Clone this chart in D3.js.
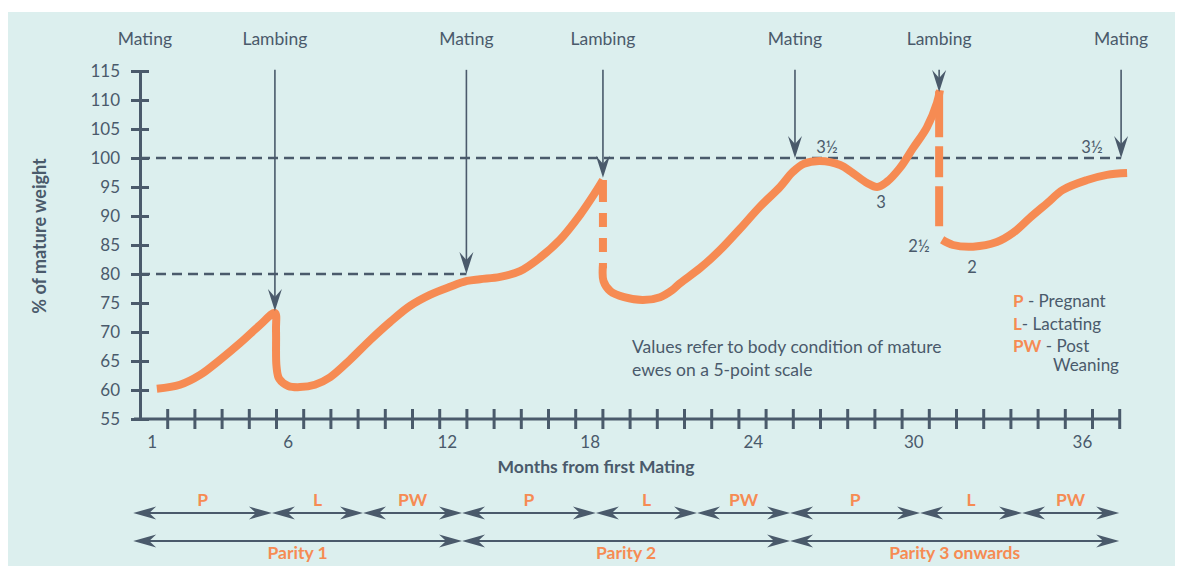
<!DOCTYPE html>
<html>
<head>
<meta charset="utf-8">
<script src="https://cdn.jsdelivr.net/npm/d3@7/dist/d3.min.js"></script>
<style>
  body { margin: 0; background: #fff; }
</style>
</head>
<body>
<div id="chart"></div>
<script>
// ---- data (months from first mating, % of mature weight) ----
var yTicks = [55, 60, 65, 70, 75, 80, 85, 90, 95, 100, 105, 110, 115];
var monthTicks = d3.range(1, 37);
var xLabels = ["1", "6", "12", "18", "24", "30", "36"];
var xLabelAt = [0.45, 5.45, 11.3, 16.55, 22.55, 28.45, 34.65];

var eventNames = ["Mating", "Lambing", "Mating", "Lambing", "Mating", "Lambing", "Mating"];
var eventMonths = [0.18, 4.96, 12.0, 17.02, 24.08, 29.38, 36.07];
var eventTips = [null, 73.6, 80, 96.6, 100, 111.4, 100];

var refValues = [80, 100];
var refEnds = [12.0, 36.07];

// body weight curve, split where the line changes style
var growthA = [[0.62, 60.2], [1.47, 60.9], [2.21, 62.6], [2.94, 65.2], [3.68, 68.1], [4.41, 71.2],
  [4.96, 73.3], [5.0, 70.3], [5.02, 64.0], [5.12, 61.9], [5.45, 60.7], [5.88, 60.5], [6.43, 60.9],
  [6.99, 62.2], [7.72, 65.2], [8.46, 68.6], [9.19, 71.7], [9.93, 74.5], [10.66, 76.4], [11.4, 77.8],
  [12.02, 78.8], [12.5, 79.1], [13.24, 79.5], [13.97, 80.5], [14.7, 82.8], [15.44, 85.9],
  [16.18, 90.2], [16.73, 94.0], [17.02, 96.2]];
var dropB = [[17.02, 96.2], [17.02, 81.0]];
var growthC = [[17.02, 81.5], [17.04, 78.8], [17.3, 77.0], [17.8, 76.0], [18.49, 75.5], [19.12, 76.0],
  [19.56, 77.2], [19.85, 78.4], [20.59, 81.0], [21.32, 84.1], [22.06, 87.8], [22.79, 91.6],
  [23.53, 95.0], [24.0, 97.6], [24.4, 99.0], [25.0, 99.5], [25.74, 98.8], [26.21, 97.4],
  [26.73, 95.7], [27.1, 95.0], [27.46, 95.9], [27.94, 98.3], [28.42, 101.7], [28.93, 105.3],
  [29.3, 109.5], [29.41, 111.7]];
var dropD = [[29.38, 111.5], [29.38, 88.0]];
var growthE = [[29.49, 85.9], [29.89, 85.0], [30.63, 84.7], [31.5, 85.5], [32.1, 87.1], [32.72, 89.7],
  [33.35, 92.2], [33.93, 94.5], [34.82, 96.2], [35.55, 97.1], [36.29, 97.4]];

var scoreLabels = ["3½", "3", "2½", "2", "3½"];
var scoreMonths = [25.26, 27.24, 28.64, 30.59, 35.0];
var scoreValues = [100.9, 91.4, 83.8, 80.2, 100.9];

var phaseNames = ["P", "L", "PW", "P", "L", "PW", "P", "L", "PW"];
var phaseBounds = [-0.25, 4.85, 8.2, 11.84, 16.76, 20.48, 23.9, 28.68, 32.43, 36.0];
var parityNames = ["Parity 1", "Parity 2", "Parity 3 onwards"];
var parityBounds = [-0.25, 11.84, 23.9, 36.0];

// ---- styles ----
var bg = "#dcefee", slate = "#4a5a6b", orange = "#f68b53";
var font = "Lato, 'Open Sans', sans-serif";

var W = 1183, H = 566;
var svg = d3.select("#chart").append("svg")
  .attr("width", W).attr("height", H)
  .attr("font-family", font);

svg.append("rect").attr("x", 8).attr("y", 12).attr("width", 1167).attr("height", 554).attr("fill", bg);

var x = d3.scaleLinear().domain([0, 36]).range([140, 1119.2]);
var y = d3.scaleLinear().domain([55, 115]).range([419, 71]);

function headPath(tx, ty, dx, dy, len, half, notch) {
  var px = -dy, py = dx;
  var bx = tx - dx * len, by = ty - dy * len;
  var nx = tx - dx * (len - notch), ny = ty - dy * (len - notch);
  return "M" + tx + "," + ty +
    "L" + (bx + px * half) + "," + (by + py * half) +
    "L" + nx + "," + ny +
    "L" + (bx - px * half) + "," + (by - py * half) + "Z";
}

// dashed reference lines
svg.selectAll(".ref").data(refValues).join("line")
  .attr("class", "ref")
  .attr("x1", x(0)).attr("x2", (d, i) => x(refEnds[i]))
  .attr("y1", d => y(d)).attr("y2", d => y(d))
  .attr("stroke", slate).attr("stroke-width", 2.5)
  .attr("stroke-dasharray", "10,6");

// weight curve
var line = d3.line().x(d => x(d[0])).y(d => y(d[1])).curve(d3.curveCatmullRom.alpha(0.5));
var straight = d3.line().x(d => x(d[0])).y(d => y(d[1]));

[growthA, growthC, growthE].forEach(function (seg) {
  svg.append("path").attr("d", line(seg))
    .attr("fill", "none").attr("stroke", orange).attr("stroke-width", 8)
    .attr("stroke-linejoin", "round").attr("stroke-linecap", "butt");
});
svg.append("path").attr("d", straight(dropB))
  .attr("fill", "none").attr("stroke", orange).attr("stroke-width", 8)
  .attr("stroke-dasharray", "22,11,14,11,14,11,14");
svg.append("path").attr("d", straight(dropD))
  .attr("fill", "none").attr("stroke", orange).attr("stroke-width", 8)
  .attr("stroke-dasharray", "46,9,31,9,40");

// y axis
var yAxis = svg.append("g").attr("transform", "translate(" + x(0) + ",0)")
  .call(d3.axisLeft(y).tickValues(yTicks).tickSize(9).tickSizeOuter(0).tickPadding(11));
yAxis.select(".domain").attr("stroke", slate).attr("stroke-width", 3);
yAxis.selectAll(".tick line").attr("x1", 9).attr("stroke", slate).attr("stroke-width", 3);
yAxis.selectAll(".tick text").attr("fill", slate).attr("font-size", 17).attr("font-family", font);

// x axis
var xAxis = svg.append("g").attr("transform", "translate(0," + y(55) + ")")
  .call(d3.axisBottom(x).tickValues(monthTicks).tickSize(10).tickSizeOuter(0).tickFormat(""));
xAxis.select(".domain").remove();
xAxis.append("line").attr("x1", x(-0.22)).attr("x2", x(36)).attr("stroke", slate).attr("stroke-width", 3);
xAxis.selectAll(".tick line").attr("y1", -10).attr("stroke", slate).attr("stroke-width", 3);

svg.selectAll(".xlab").data(xLabels).join("text")
  .attr("class", "xlab")
  .attr("x", (d, i) => x(xLabelAt[i])).attr("y", 448)
  .attr("text-anchor", "middle").attr("font-size", 17).attr("fill", slate)
  .text(d => d);

svg.append("text").attr("x", 596).attr("y", 473)
  .attr("text-anchor", "middle").attr("font-size", 17.5).attr("font-weight", "bold").attr("fill", slate)
  .text("Months from first Mating");

svg.append("text").attr("transform", "translate(46,236) rotate(-90)")
  .attr("text-anchor", "middle").attr("font-size", 18).attr("font-weight", "bold").attr("fill", slate)
  .text("% of mature weight");

// event labels and arrows
svg.selectAll(".evlab").data(eventNames).join("text")
  .attr("class", "evlab")
  .attr("x", (d, i) => x(eventMonths[i])).attr("y", 45)
  .attr("text-anchor", "middle").attr("font-size", 17.5).attr("fill", slate)
  .text(d => d);

var arrows = svg.selectAll(".ev").data(eventMonths.map((m, i) => ({ m: m, tip: eventTips[i] })).filter(d => d.tip !== null))
  .join("g").attr("class", "ev");
arrows.append("line")
  .attr("x1", d => x(d.m)).attr("x2", d => x(d.m))
  .attr("y1", y(115.2)).attr("y2", d => y(d.tip) - 12)
  .attr("stroke", slate).attr("stroke-width", 1.6);
arrows.append("path")
  .attr("d", d => headPath(x(d.m), y(d.tip), 0, 1, 22, 7, 8))
  .attr("fill", slate);

// condition score labels
svg.selectAll(".score").data(scoreLabels).join("text")
  .attr("class", "score")
  .attr("x", (d, i) => x(scoreMonths[i])).attr("y", (d, i) => y(scoreValues[i]))
  .attr("text-anchor", "middle").attr("font-size", 16.5).attr("fill", slate)
  .text(d => d);

// note
var note = svg.append("text").attr("font-size", 17.5).attr("fill", slate);
note.append("tspan").attr("x", 632).attr("y", 353).text("Values refer to body condition of mature");
note.append("tspan").attr("x", 632).attr("y", 376).text("ewes on a 5-point scale");

// legend
var legendRows = [["P", " - Pregnant", 307], ["L", "- Lactating", 330], ["PW", " - Post", 352]];
legendRows.forEach(function (r) {
  var t = svg.append("text").attr("x", 1013).attr("y", r[2]).attr("font-size", 17).attr("fill", slate);
  t.append("tspan").attr("font-weight", "bold").attr("fill", orange).text(r[0]);
  t.append("tspan").text(r[1]);
});
svg.append("text").attr("x", 1053).attr("y", 371).attr("font-size", 17).attr("fill", slate).text("Weaning");

// phase and parity double arrows
function doubleArrows(names, bounds, yy, labelY, cls) {
  var segs = names.map((n, i) => ({ name: n, a: bounds[i], b: bounds[i + 1] }));
  var g = svg.selectAll("." + cls).data(segs).join("g").attr("class", cls);
  g.append("line")
    .attr("x1", d => x(d.a) + 10).attr("x2", d => x(d.b) - 10)
    .attr("y1", yy).attr("y2", yy)
    .attr("stroke", slate).attr("stroke-width", 2.2);
  g.append("path").attr("d", d => headPath(x(d.a), yy, -1, 0, 23, 6.5, 7)).attr("fill", slate);
  g.append("path").attr("d", d => headPath(x(d.b), yy, 1, 0, 23, 6.5, 7)).attr("fill", slate);
  g.append("text")
    .attr("x", d => (x(d.a) + x(d.b)) / 2).attr("y", labelY)
    .attr("text-anchor", "middle").attr("font-size", 17.5).attr("font-weight", "bold").attr("fill", orange)
    .text(d => d.name);
}
doubleArrows(phaseNames, phaseBounds, 513, 506, "phase");
doubleArrows(parityNames, parityBounds, 541, 559, "parity");
</script>
</body>
</html>
